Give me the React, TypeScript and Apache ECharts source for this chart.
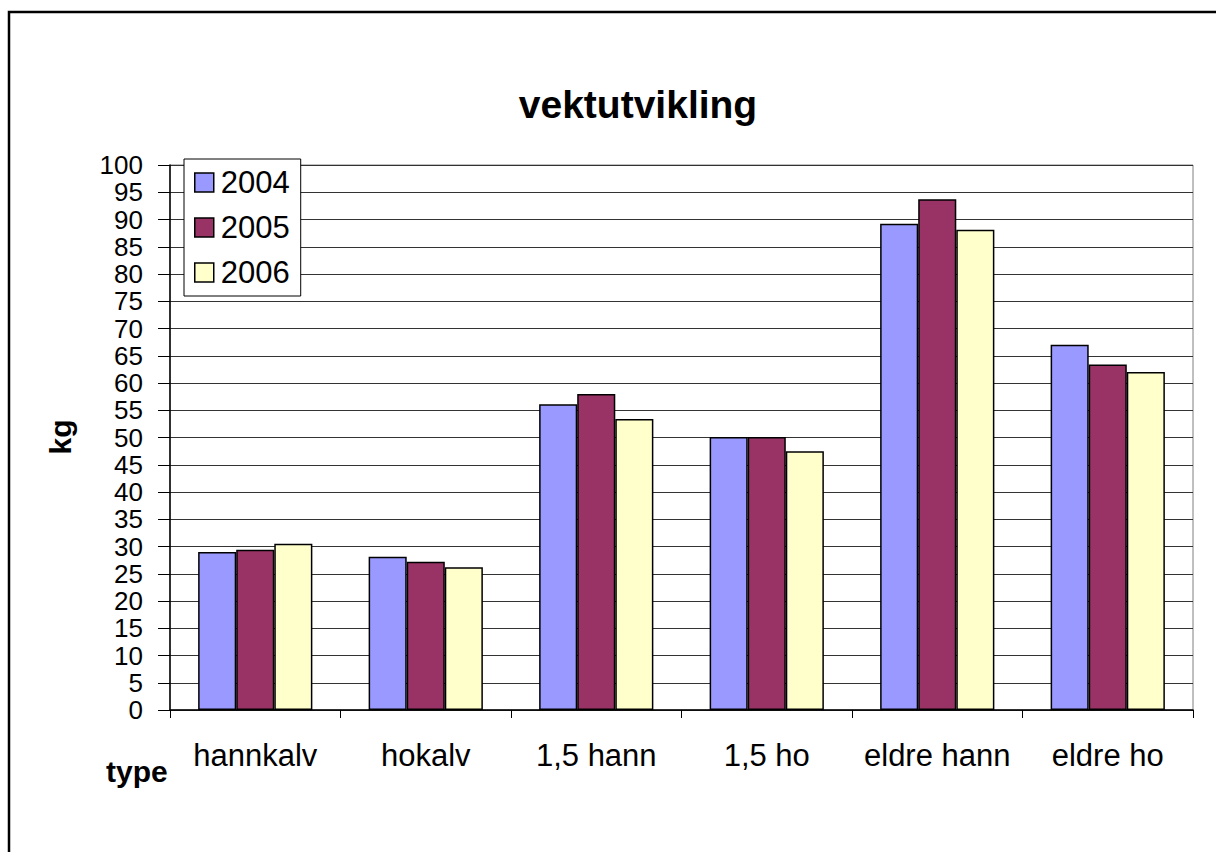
import React, { useEffect, useRef } from "react";
import * as echarts from "echarts";

const categories = ["hannkalv", "hokalv", "1,5 hann", "1,5 ho", "eldre hann", "eldre ho"];
const seriesNames = ["2004", "2005", "2006"];
const values2004 = [29.0, 28.1, 56.1, 50.1, 89.2, 67.0];
const values2005 = [29.4, 27.2, 58.0, 50.1, 93.7, 63.4];
const values2006 = [30.5, 26.2, 53.4, 47.5, 88.1, 62.0];
const colors = ["#9999FF", "#993366", "#FFFFCC"];

const FONT = "'Liberation Sans', Arial, sans-serif";

export default function App() {
  const ref = useRef<HTMLDivElement>(null);
  useEffect(() => {
    if (!ref.current) return;
    const chart = echarts.init(ref.current, null, { renderer: "svg" });
    const data = [values2004, values2005, values2006];
    chart.setOption({
      animation: false,
      backgroundColor: "#ffffff",
      textStyle: { fontFamily: FONT },
      title: {
        text: "vektutvikling",
        left: 638,
        textAlign: "center",
        top: 85,
        padding: 0,
        textStyle: { fontFamily: FONT, fontSize: 39, fontWeight: "bold", color: "#000" },
      },
      legend: {
        orient: "vertical",
        left: 184,
        top: 159,
        padding: [8, 11, 8, 10],
        itemGap: 14,
        itemWidth: 19,
        itemHeight: 19,
        icon: "rect",
        backgroundColor: "#ffffff",
        borderColor: "#000",
        borderWidth: 1,
        borderRadius: 0,
        itemStyle: { borderColor: "#000", borderWidth: 1.5 },
        textStyle: { fontFamily: FONT, fontSize: 31, color: "#000", padding: [0, 0, 0, 2] },
        data: seriesNames,
      },
      grid: {
        left: 170,
        right: 23,
        top: 165,
        bottom: 142,
        show: true,
        borderColor: "#808080",
        borderWidth: 1,
        backgroundColor: "transparent",
      },
      xAxis: {
        type: "category",
        data: categories,
        axisLine: { lineStyle: { color: "#000", width: 1.5 } },
        axisTick: { show: true, length: 8, lineStyle: { color: "#000" } },
        axisLabel: { interval: 0, fontFamily: FONT, fontSize: 31, color: "#000", margin: 30 },
      },
      yAxis: {
        type: "value",
        min: 0,
        max: 100,
        interval: 5,
        axisLine: { show: true, lineStyle: { color: "#000", width: 1.5 } },
        axisTick: { show: true, length: 12, lineStyle: { color: "#000" } },
        axisLabel: {
          fontFamily: FONT,
          fontSize: 26,
          lineHeight: 26,
          color: "#000",
          margin: 27,
          showMinLabel: true,
          showMaxLabel: true,
          hideOverlap: false,
        },
        splitLine: { show: true, lineStyle: { color: "#333", width: 1 } },
      },
      graphic: [
        {
          type: "rect",
          shape: { x: 9, y: 12, width: 1400, height: 1000 },
          style: { fill: "none", stroke: "#000", lineWidth: 2.5 },
          silent: true,
        },
        {
          type: "text",
          x: 60,
          y: 437,
          rotation: Math.PI / 2,
          style: {
            text: "kg",
            fontFamily: FONT,
            fontSize: 30,
            fontWeight: "bold",
            fill: "#000",
            align: "center",
            verticalAlign: "middle",
          },
        },
        {
          type: "text",
          x: 106,
          y: 771,
          style: {
            text: "type",
            fontFamily: FONT,
            fontSize: 30,
            fontWeight: "bold",
            fill: "#000",
            align: "left",
            verticalAlign: "middle",
          },
        },
      ],
      series: seriesNames.map((name, i) => ({
        name,
        type: "bar",
        data: data[i],
        barGap: "0%",
        barCategoryGap: "33%",
        itemStyle: { color: colors[i], borderColor: "#000", borderWidth: 1.5 },
      })),
    });
    return () => chart.dispose();
  }, []);
  return (
    <div
      ref={ref}
      style={{ position: "absolute", left: 0, top: 0, width: 1216, height: 852 }}
    />
  );
}
